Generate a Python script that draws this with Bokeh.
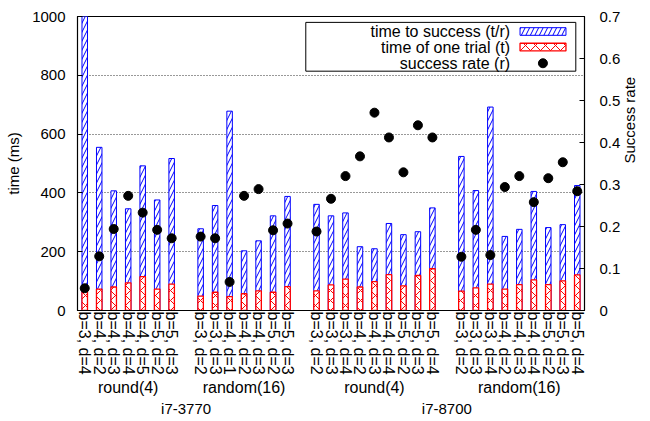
import math
from bokeh.plotting import figure
from bokeh.models import (FactorRange, Range1d, LinearAxis, FixedTicker,
                          NumeralTickFormatter, ColumnDataSource)
from bokeh.embed import file_html
from bokeh.resources import INLINE
from bokeh.core.properties import value

# ---------------- data ----------------
cpus = ["i7-3770", "i7-8700"]
methods = ["round(4)", "random(16)"]

params_3770_round = ["b=3, d=4", "b=4, d=2", "b=4, d=3", "b=4, d=4",
                     "b=4, d=5", "b=5, d=2", "b=5, d=3"]
params_3770_random = ["b=3, d=2", "b=3, d=3", "b=4, d=1", "b=4, d=2",
                      "b=4, d=3", "b=5, d=2", "b=5, d=3"]
params_8700_round = ["b=3, d=2", "b=3, d=3", "b=3, d=4", "b=4, d=2", "b=4, d=3",
                     "b=4, d=4", "b=5, d=2", "b=5, d=3", "b=5, d=4"]
params_8700_random = ["b=3, d=2", "b=3, d=3", "b=3, d=4", "b=4, d=2", "b=4, d=3",
                      "b=4, d=4", "b=5, d=2", "b=5, d=3", "b=5, d=4"]

# time to success (t/r), ms
tsucc_3770_round = [1210, 555, 407, 346, 492, 376, 517]
tsucc_3770_random = [278, 357, 678, 203, 237, 322, 388]
tsucc_8700_round = [361, 322, 332, 217, 210, 296, 258, 268, 349]
tsucc_8700_random = [524, 408, 692, 252, 276, 405, 282, 292, 425]

# time of one trial (t), ms
ttrial_3770_round = [64, 73, 80, 94, 115, 73, 90]
ttrial_3770_random = [49, 62, 47, 57, 67, 62, 81]
ttrial_8700_round = [67, 87, 107, 80, 98, 122, 84, 119, 142]
ttrial_8700_random = [66, 77, 90, 73, 88, 104, 88, 101, 121]

# success rate (r)
rate_3770_round = [0.053, 0.129, 0.194, 0.273, 0.233, 0.192, 0.172]
rate_3770_random = [0.176, 0.172, 0.068, 0.273, 0.289, 0.191, 0.207]
rate_8700_round = [0.188, 0.266, 0.320, 0.367, 0.471, 0.412, 0.329, 0.441, 0.412]
rate_8700_random = [0.128, 0.192, 0.132, 0.294, 0.320, 0.258, 0.315, 0.353, 0.284]

legend_labels = ["time to success (t/r)", "time of one trial (t)", "success rate (r)"]
left_ticks = [0, 200, 400, 600, 800, 1000]
right_ticks = [0, 0.1, 0.2, 0.3, 0.4, 0.5, 0.6, 0.7]

# ---------------- assemble ----------------
groups = [
    (cpus[0], methods[0], params_3770_round, tsucc_3770_round, ttrial_3770_round, rate_3770_round),
    (cpus[0], methods[1], params_3770_random, tsucc_3770_random, ttrial_3770_random, rate_3770_random),
    (cpus[1], methods[0], params_8700_round, tsucc_8700_round, ttrial_8700_round, rate_8700_round),
    (cpus[1], methods[1], params_8700_random, tsucc_8700_random, ttrial_8700_random, rate_8700_random),
]
xs, ts, tt, rr = [], [], [], []
for cpu, m, params, a, b, c in groups:
    for k, prm in enumerate(params):
        xs.append((cpu, m, prm))
        ts.append(a[k])
        tt.append(b[k])
        rr.append(c[k])
src = ColumnDataSource(dict(x=xs, ts=ts, tt=tt, rr=rr))

FONT = "Liberation Sans"
FS = "15px"
FSX = "16px"

x_range = FactorRange(factors=xs, factor_padding=0.0, subgroup_padding=1.0,
                      group_padding=1.0, range_padding=0.0)
p = figure(width=650, height=421, x_range=x_range, y_range=Range1d(0, 1000),
           output_backend="svg", toolbar_location=None,
           min_border_left=77, min_border_right=66, min_border_top=16,
           min_border_bottom=111)
p.extra_y_ranges = {"rate": Range1d(0, 0.7)}

p.outline_line_color = "black"
p.outline_line_width = 1.2
p.background_fill_color = "white"
p.border_fill_color = "white"

# grid
p.xgrid.grid_line_color = None
p.ygrid.ticker = FixedTicker(ticks=left_ticks)
p.ygrid.grid_line_color = "black"
p.ygrid.grid_line_dash = "1 2"
p.ygrid.grid_line_alpha = 0.8

# left axis
ya = p.yaxis[0]
ya.ticker = FixedTicker(ticks=left_ticks)
ya.axis_label = "time (ms)"
ya.axis_label_text_font = FONT
ya.axis_label_text_font_size = FS
ya.axis_label_text_font_style = "normal"
ya.axis_label_text_color = "black"
ya.axis_label_standoff = 7
ya.major_label_text_font = FONT
ya.major_label_text_font_size = FS
ya.major_label_text_color = "black"
ya.major_label_standoff = 12
ya.major_tick_in = 5
ya.major_tick_out = 0
ya.minor_tick_line_color = None
ya.axis_line_color = "black"

# right axis
ra = LinearAxis(y_range_name="rate", axis_label="Success rate")
ra.ticker = FixedTicker(ticks=right_ticks)
ra.formatter = NumeralTickFormatter(format="0.[0]")
ra.axis_label_text_font = FONT
ra.axis_label_text_font_size = FS
ra.axis_label_text_font_style = "normal"
ra.axis_label_text_color = "black"
ra.axis_label_standoff = 6
ra.axis_label_orientation = math.pi / 2
ra.major_label_text_font = FONT
ra.major_label_text_font_size = FS
ra.major_label_text_color = "black"
ra.major_label_standoff = 15
ra.major_tick_in = 5
ra.major_tick_out = 0
ra.minor_tick_line_color = None
ra.axis_line_color = "black"
p.add_layout(ra, "right")

# bottom axis
xa = p.xaxis[0]
xa.major_label_orientation = -math.pi / 2
xa.major_label_text_font = FONT
xa.major_label_text_font_size = FSX
xa.major_label_text_color = "black"
xa.major_label_standoff = 1
xa.subgroup_text_font = FONT
xa.subgroup_text_font_size = FSX
xa.subgroup_text_font_style = "normal"
xa.subgroup_text_color = "black"
xa.group_text_font = FONT
xa.group_text_font_size = FS
xa.group_text_font_style = "normal"
xa.group_text_color = "black"
xa.separator_line_color = None
xa.major_tick_line_color = None
xa.major_tick_in = 0
xa.major_tick_out = 0
xa.axis_line_color = "black"

# bars
p.vbar(x="x", top="ts", width=0.38, source=src, fill_color="white",
       line_color="blue", line_width=1, hatch_pattern="/", hatch_color="blue",
       hatch_scale=9, hatch_weight=1)
p.vbar(x="x", top="tt", width=0.38, source=src, fill_color="white",
       line_color="red", line_width=1.3, hatch_pattern="x", hatch_color="red",
       hatch_scale=10, hatch_weight=1)
p.scatter(x="x", y="rr", y_range_name="rate", source=src, size=9,
          fill_color="black", line_color="black")

# legend (gnuplot style: text, then sample)
p.quad(left=[15.76], right=[34.4], bottom=[814], top=[980], fill_color="white",
       line_color="black", line_width=1, level="overlay")
p.text(x=[29.86] * 3, y=[948, 895, 841], text=legend_labels, text_align="right",
       text_baseline="middle", text_font=value(FONT), text_font_size="16px",
       text_color="black", level="overlay")
p.quad(left=[30.55], right=[33.72], bottom=[936], top=[962], fill_color="white",
       line_color="blue", hatch_pattern="/", hatch_color="blue", hatch_scale=9,
       level="overlay")
p.quad(left=[30.55], right=[33.72], bottom=[883], top=[909], fill_color="white",
       line_color="red", line_width=1.3, hatch_pattern="x", hatch_color="red",
       hatch_scale=10, level="overlay")
p.scatter(x=[32.13], y=[841], size=9, fill_color="black", line_color="black",
          level="overlay")

open("out.html", "w").write(file_html(p, INLINE))
